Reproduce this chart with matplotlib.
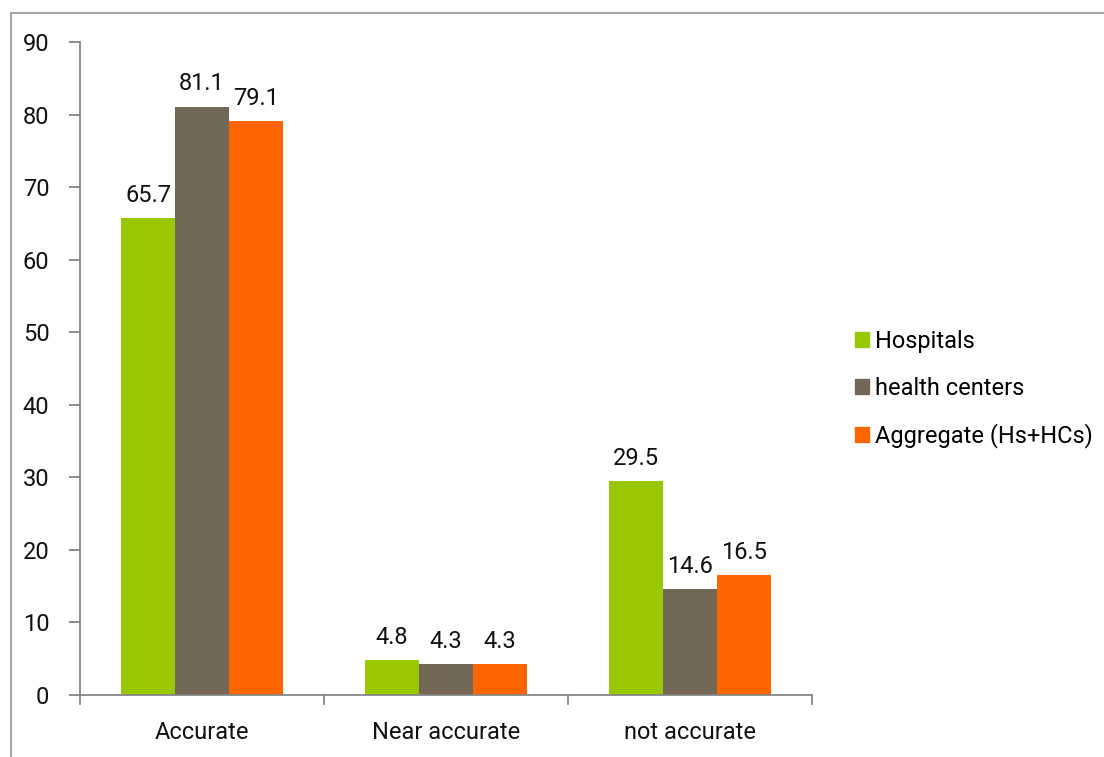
import matplotlib
matplotlib.use("Agg")
import matplotlib.pyplot as plt
import numpy as np
from matplotlib.lines import Line2D

categories = ["Accurate", "Near accurate", "not accurate"]
series_names = ["Hospitals", "health centers", "Aggregate (Hs+HCs)"]
hospitals = [65.7, 4.8, 29.5]
health_centers = [81.1, 4.3, 14.6]
aggregate = [79.1, 4.3, 16.5]
y_ticks = [0, 10, 20, 30, 40, 50, 60, 70, 80, 90]

colors = ["#99C800", "#736857", "#FF6600"]
values = [hospitals, health_centers, aggregate]

plt.rcParams["font.family"] = ["Roboto", "DejaVu Sans"]
FS = 17

fig = plt.figure(figsize=(11.04, 7.57), dpi=100)
ax = fig.add_axes([80 / 1104, 62 / 757, 732 / 1104, 653 / 757])

x = np.arange(len(categories))
width = 0.221
for i, (vals, col, name) in enumerate(zip(values, colors, series_names)):
    pos = x + (i - 1) * width
    bars = ax.bar(pos, vals, width, color=col, label=name, zorder=2)
    for b, v in zip(bars, vals):
        ax.annotate(f"{v}", (b.get_x() + b.get_width() / 2, v),
                    xytext=(0, 8), textcoords="offset points",
                    ha="center", va="bottom", fontsize=FS, color="#111111")

ax.set_xlim(-0.5, 2.5)
ax.set_ylim(0, 90)
ax.set_yticks(y_ticks)
ax.set_yticklabels([str(t) for t in y_ticks], fontsize=FS)
ax.set_xticks(x)
ax.set_xticklabels(categories, fontsize=FS)
ax.tick_params(axis="x", length=0, pad=19, labelcolor="#111111")
ax.tick_params(axis="y", length=8, width=1.3, color="#868686", pad=14,
               labelcolor="#111111")
# category separators on the x axis
for b in [-0.5, 0.5, 1.5, 2.5]:
    ax.plot([b, b], [0, -1.3], color="#868686", lw=1.3, clip_on=False)

for s in ["top", "right"]:
    ax.spines[s].set_visible(False)
for s in ["left", "bottom"]:
    ax.spines[s].set_color("#868686")
    ax.spines[s].set_linewidth(1.3)

handles = [plt.Rectangle((0, 0), 1, 1, color=c) for c in colors]
fig.legend(handles, series_names, loc="center left",
           bbox_to_anchor=(843 / 1104, 1 - 389 / 757), frameon=False,
           fontsize=FS, handlelength=0.6, handleheight=0.6,
           handletextpad=0.25, labelspacing=1.0, borderpad=0)

# outer frame
fig.add_artist(Line2D([11 / 1104, 1.0], [1 - 13 / 757, 1 - 13 / 757],
                      transform=fig.transFigure, color="#a6a6a6", lw=1.5))
fig.add_artist(Line2D([11 / 1104, 11 / 1104], [0, 1 - 13 / 757],
                      transform=fig.transFigure, color="#a6a6a6", lw=1.5))

fig.savefig("out.png", dpi=100)
